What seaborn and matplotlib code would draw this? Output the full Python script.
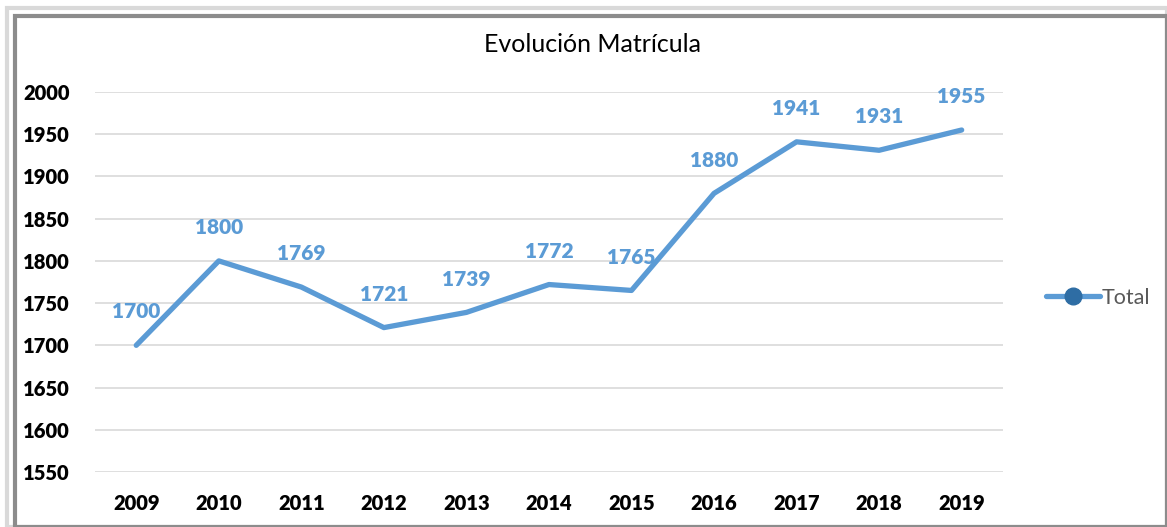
import matplotlib.pyplot as plt
import seaborn as sns
import pandas as pd
from matplotlib.patches import Rectangle
from matplotlib.lines import Line2D

# datos
years = ['2009', '2010', '2011', '2012', '2013', '2014', '2015', '2016', '2017', '2018', '2019']
total = [1700, 1800, 1769, 1721, 1739, 1772, 1765, 1880, 1941, 1931, 1955]
yticks = [1550, 1600, 1650, 1700, 1750, 1800, 1850, 1900, 1950, 2000]

sns.set_style('white')
plt.rcParams['font.family'] = ['Lato', 'DejaVu Sans']

blue = '#5B9BD5'
df = pd.DataFrame({'year': years, 'total': total})

fig = plt.figure(figsize=(11.67, 5.27), dpi=100)
# marco
fig.patches.append(Rectangle((0.006, 0.0), 0.994, 0.985, transform=fig.transFigure,
                             fill=False, edgecolor='#d9d9d9', linewidth=3))
fig.patches.append(Rectangle((0.013, 0.0), 0.987, 0.97, transform=fig.transFigure,
                             fill=False, edgecolor='#8c8c8c', linewidth=3))

ax = fig.add_axes([0.0814, 0.1044, 0.778, 0.721])
sns.lineplot(data=df, x='year', y='total', ax=ax, color=blue, linewidth=3.8, sort=False)

for i, v in enumerate(total):
    ax.annotate(str(v), (i, v), xytext=(0, 24), textcoords='offset points',
                ha='center', va='center', color=blue, fontsize=15, fontweight='heavy')

ax.set_xlim(-0.5, len(years) - 0.5)
ax.set_ylim(1550, 2000)
ax.set_yticks(yticks)
ax.grid(axis='y', color='#d9d9d9', linewidth=1.2)
ax.set_axisbelow(True)
for s in ax.spines.values():
    s.set_visible(False)
ax.tick_params(axis='both', length=0, labelsize=14.5, labelcolor='black')
ax.tick_params(axis='y', pad=18)
ax.tick_params(axis='x', pad=16)
for lab in ax.get_xticklabels() + ax.get_yticklabels():
    lab.set_fontweight('heavy')
ax.set_xlabel('')
ax.set_ylabel('')

fig.text(0.508, 0.915, 'Evolución Matrícula', ha='center', va='center', fontsize=18, color='black')

handle = Line2D([], [], color=blue, linewidth=3.8, marker='o', markersize=12,
                markerfacecolor='#2e6da4', markeredgecolor='#2e6da4')
fig.legend([handle], ['Total'], loc='center left', bbox_to_anchor=(0.889, 0.435),
           frameon=False, fontsize=15.5, labelcolor='#595959', handlelength=2.5,
           handletextpad=0.1, borderaxespad=0)

fig.savefig('out.png', dpi=100)
